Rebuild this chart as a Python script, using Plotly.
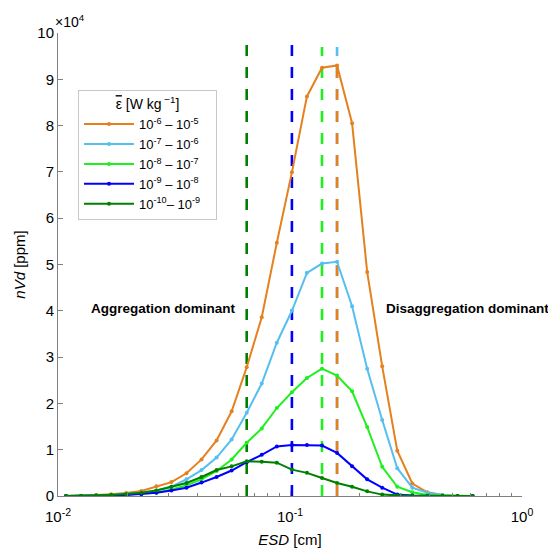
import plotly.graph_objects as go

# ESD bin centres [cm]
esd = [0.01083, 0.01257, 0.01460, 0.01695, 0.01968, 0.02286, 0.02654, 0.03082,
       0.03579, 0.04156, 0.04826, 0.05604, 0.06507, 0.07556, 0.08774, 0.1019,
       0.1183, 0.1374, 0.1595, 0.1852, 0.2151, 0.2497, 0.2900, 0.3367,
       0.3910, 0.4540, 0.5272, 0.6121]

# nVd in units of 1e4 ppm
nvd_e6_e5 = [0, 0.005, 0.02, 0.04, 0.065, 0.11, 0.21, 0.30, 0.49, 0.79, 1.20, 1.83,
             2.78, 3.86, 5.47, 6.99, 8.63, 9.25, 9.30, 8.05, 4.84, 2.80, 0.98, 0.27,
             0.08, 0.02, 0, 0]
nvd_e7_e6 = [0, 0, 0.01, 0.02, 0.04, 0.07, 0.12, 0.20, 0.36, 0.56, 0.83, 1.22,
             1.80, 2.43, 3.31, 4.00, 4.82, 5.02, 5.06, 4.10, 2.75, 1.64, 0.60, 0.18,
             0.07, 0.02, 0, 0]
nvd_e8_e7 = [0, 0, 0.01, 0.02, 0.04, 0.05, 0.07, 0.14, 0.23, 0.36, 0.54, 0.79,
             1.15, 1.46, 1.90, 2.24, 2.55, 2.75, 2.60, 2.26, 1.49, 0.63, 0.20, 0.08,
             0.02, 0.01, 0, 0]
nvd_e9_e8 = [0, 0, 0, 0.01, 0.02, 0.04, 0.07, 0.12, 0.18, 0.29, 0.41, 0.55,
             0.73, 0.89, 1.07, 1.10, 1.10, 1.09, 0.93, 0.64, 0.36, 0.18, 0.03, 0.01,
             0, 0, 0, 0]
nvd_e10_e9 = [0, 0, 0.01, 0.02, 0.04, 0.07, 0.12, 0.20, 0.28, 0.41, 0.56, 0.64,
              0.75, 0.74, 0.72, 0.57, 0.50, 0.39, 0.28, 0.20, 0.10, 0.03, 0.01, 0,
              0, 0, 0, 0]

series_names = ["10<sup>-6</sup> – 10<sup>-5</sup>", "10<sup>-7</sup> – 10<sup>-6</sup>",
                "10<sup>-8</sup> – 10<sup>-7</sup>", "10<sup>-9</sup> – 10<sup>-8</sup>",
                "10<sup>-10</sup>– 10<sup>-9</sup>"]
series_vals = [nvd_e6_e5, nvd_e7_e6, nvd_e8_e7, nvd_e9_e8, nvd_e10_e9]
colors = ["#E5801F", "#55BFEF", "#1EF01E", "#0000FF", "#008000"]

# tops of the vertical dashed peak markers (units 1e4 ppm); None = up to the peak
dash_tops = [None, 9.7, 9.7, 9.85, 9.85]

xtick_vals = [0.01, 0.1, 1]
xtick_text = ["10<sup>-2</sup>", "10<sup>-1</sup>", "10<sup>0</sup>"]
xminor_vals = [m * d for d in (0.01, 0.1) for m in range(2, 10)]
ytick_vals = list(range(0, 11))

fig = go.Figure()

# dashed peak lines (drawn below the curves); cyan before orange
dash_order = [4, 3, 2, 1, 0]
for k in dash_order:
    vals = series_vals[k]
    imax = max(range(len(vals)), key=lambda i: (vals[i], -i))
    xp = esd[imax]
    top = dash_tops[k] if dash_tops[k] is not None else vals[imax]
    fig.add_trace(go.Scatter(
        x=[xp, xp], y=[0, top], mode="lines",
        line=dict(color=colors[k], width=2.6, dash="11px,11px"),
        showlegend=False, hoverinfo="skip"))

pad = "\u00a0\u00a0\u00a0"
for k in range(len(series_vals)):
    fig.add_trace(go.Scatter(
        x=esd, y=series_vals[k], mode="lines+markers", name=series_names[k] + pad,
        line=dict(color=colors[k], width=2),
        marker=dict(color=colors[k], size=4)))

font_family = "Arial, Liberation Sans, sans-serif"

# the page body adds an 8px offset, so the figure is 548px with matching margins
W = H = 548
ML, MR, MT, MB = 50, 34, 25, 59.5
PW = W - ML - MR
PH = H - MT - MB

fig.update_layout(
    width=W, height=H,
    margin=dict(l=ML, r=MR, t=MT, b=MB, autoexpand=False),
    paper_bgcolor="white", plot_bgcolor="white",
    font=dict(family=font_family, color="black", size=15),
    legend=dict(
        x=20 / PW, y=(PH + 25 - 82) / PH, xanchor="left", yanchor="top",
        bgcolor="white", bordercolor="#C8C8C8", borderwidth=1,
        font=dict(size=13, family=font_family),
        title=dict(text="<span style='text-decoration:overline'>ε</span> [W kg<sup> −1</sup>]",
                   side="top center",
                   font=dict(size=14, family=font_family)),
        tracegroupgap=0, itemwidth=50,
    ),
    xaxis=dict(
        type="log", range=[-2, 0], automargin=False,
        showline=True, linecolor="#808080", linewidth=1, mirror=False,
        showgrid=False, zeroline=False,
        ticks="inside", ticklen=5, tickcolor="#808080",
        tickvals=xtick_vals, ticktext=xtick_text,
        tickfont=dict(size=15),
        minor=dict(ticks="inside", ticklen=3, tickcolor="#808080",
                   tickvals=xminor_vals, showgrid=False),
        title=dict(text="<i>ESD</i> [cm]", font=dict(size=15), standoff=10),
        ticklabelstandoff=7,
    ),
    yaxis=dict(
        range=[0, 10], automargin=False,
        showline=True, linecolor="#808080", linewidth=1, mirror=False,
        showgrid=False, zeroline=False,
        ticks="inside", ticklen=5, tickcolor="#808080",
        tickvals=ytick_vals, tickfont=dict(size=15),
        title=dict(text="<i>nVd</i> [ppm]", font=dict(size=15), standoff=8),
    ),
    annotations=[
        dict(text="×10<sup>4</sup>", xref="paper", yref="paper", x=0, y=1.0,
             xanchor="left", yanchor="bottom", showarrow=False,
             font=dict(size=14), xshift=-5, yshift=1),
        dict(text="<b>Aggregation dominant</b>", xref="paper", yref="paper",
             x=(163 - 58) / PW, y=(496.5 - 309) / PH, xanchor="center", yanchor="middle",
             showarrow=False, font=dict(size=13.5)),
        dict(text="<b>Disaggregation dominant</b>", xref="paper", yref="paper",
             x=(467 - 58) / PW, y=(496.5 - 309) / PH, xanchor="center", yanchor="middle",
             showarrow=False, font=dict(size=13.5)),
    ],
)

fig.write_html("out.html")
